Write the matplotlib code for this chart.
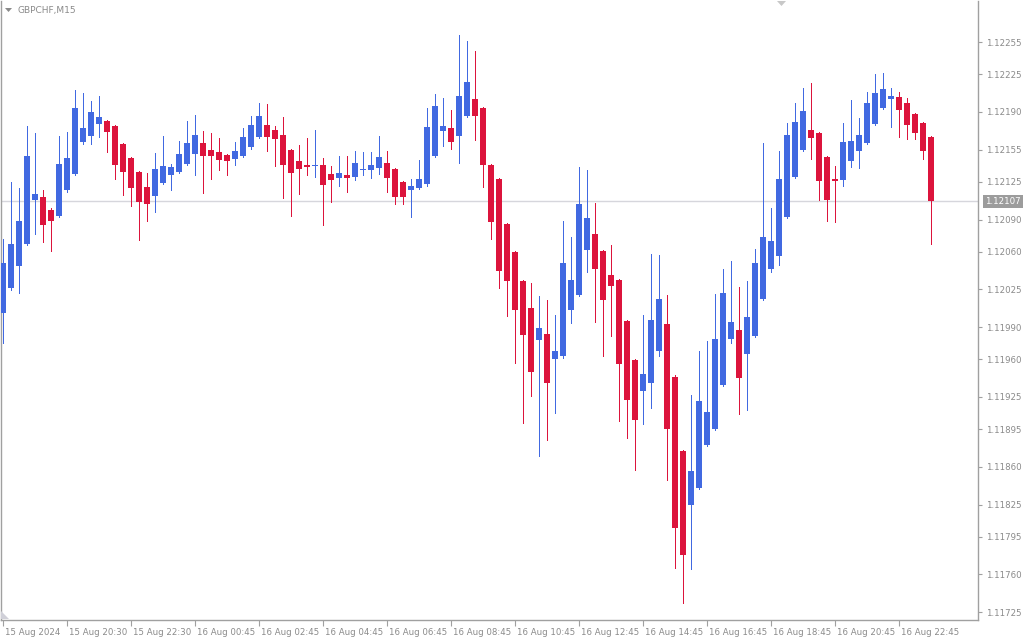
import matplotlib
matplotlib.use("Agg")
import matplotlib.pyplot as plt
from matplotlib.patches import Polygon
import matplotlib.transforms as mtransforms
import numpy as np

symbol_title = "GBPCHF,M15"

opens = [1.12003, 1.12026, 1.12047, 1.12067, 1.12108, 1.12111, 1.12099, 1.12093, 1.12117, 1.12132,
         1.12162, 1.12168, 1.12179, 1.12182, 1.12177, 1.12160, 1.12147, 1.12134, 1.12120, 1.12112,
         1.12124, 1.12131, 1.12134, 1.12142, 1.12151, 1.12161, 1.12155, 1.12153, 1.12150, 1.12146,
         1.12149, 1.12157, 1.12167, 1.12178, 1.12173, 1.12169, 1.12155, 1.12144, 1.12141, 1.12140,
         1.12141, 1.12132, 1.12129, 1.12131, 1.12130, 1.12136, 1.12136, 1.12138, 1.12143, 1.12137,
         1.12125, 1.12117, 1.12119, 1.12123, 1.12149, 1.12172, 1.12175, 1.12168, 1.12186, 1.12202,
         1.12194, 1.12141, 1.12128, 1.12086, 1.12060, 1.12033, 1.12008, 1.11978, 1.11984, 1.11960,
         1.11963, 1.12006, 1.12020, 1.12062, 1.12077, 1.12061, 1.12038, 1.12034, 1.11996, 1.11959,
         1.11931, 1.11938, 1.11968, 1.11993, 1.11944, 1.11875, 1.11825, 1.11840, 1.11880, 1.11895,
         1.11936, 1.11979, 1.11987, 1.11965, 1.11982, 1.12016, 1.12044, 1.12056, 1.12092, 1.12130,
         1.12155, 1.12173, 1.12170, 1.12148, 1.12128, 1.12127, 1.12144, 1.12154, 1.12161, 1.12179,
         1.12194, 1.12202, 1.12204, 1.12198, 1.12188, 1.12180, 1.12167]
highs = [1.12072, 1.12125, 1.12119, 1.12177, 1.12170, 1.12117, 1.12101, 1.12168, 1.12171, 1.12210,
         1.12208, 1.12200, 1.12205, 1.12183, 1.12178, 1.12161, 1.12148, 1.12135, 1.12133, 1.12152,
         1.12168, 1.12142, 1.12163, 1.12182, 1.12187, 1.12172, 1.12170, 1.12166, 1.12151, 1.12162,
         1.12175, 1.12186, 1.12198, 1.12197, 1.12177, 1.12185, 1.12156, 1.12159, 1.12166, 1.12173,
         1.12147, 1.12140, 1.12149, 1.12149, 1.12154, 1.12153, 1.12153, 1.12168, 1.12154, 1.12138,
         1.12126, 1.12128, 1.12145, 1.12194, 1.12207, 1.12203, 1.12192, 1.12262, 1.12256, 1.12247,
         1.12195, 1.12142, 1.12129, 1.12087, 1.12061, 1.12034, 1.12031, 1.12019, 1.12015, 1.12001,
         1.12089, 1.12074, 1.12139, 1.12136, 1.12105, 1.12062, 1.12066, 1.12035, 1.11997, 1.11960,
         1.12001, 1.12058, 1.12057, 1.12020, 1.11945, 1.11876, 1.11927, 1.11968, 1.11977, 1.12021,
         1.12044, 1.12051, 1.12027, 1.12033, 1.12063, 1.12161, 1.12101, 1.12154, 1.12180, 1.12198,
         1.12212, 1.12217, 1.12171, 1.12149, 1.12140, 1.12180, 1.12201, 1.12184, 1.12209, 1.12225,
         1.12226, 1.12212, 1.12209, 1.12203, 1.12189, 1.12181, 1.12168]
lows = [1.11975, 1.12024, 1.12022, 1.12066, 1.12077, 1.12069, 1.12061, 1.12092, 1.12116, 1.12131,
        1.12160, 1.12160, 1.12167, 1.12153, 1.12128, 1.12113, 1.12103, 1.12071, 1.12089, 1.12097,
        1.12123, 1.12117, 1.12133, 1.12141, 1.12131, 1.12115, 1.12128, 1.12136, 1.12131, 1.12141,
        1.12148, 1.12156, 1.12166, 1.12154, 1.12140, 1.12110, 1.12093, 1.12114, 1.12131, 1.12130,
        1.12085, 1.12106, 1.12121, 1.12116, 1.12127, 1.12131, 1.12129, 1.12132, 1.12116, 1.12104,
        1.12104, 1.12092, 1.12118, 1.12121, 1.12148, 1.12158, 1.12156, 1.12143, 1.12185, 1.12164,
        1.12120, 1.12072, 1.12026, 1.12000, 1.11957, 1.11901, 1.11926, 1.11870, 1.11885, 1.11910,
        1.11961, 1.11994, 1.12019, 1.12041, 1.11995, 1.11963, 1.11982, 1.11903, 1.11887, 1.11857,
        1.11900, 1.11915, 1.11963, 1.11848, 1.11766, 1.11733, 1.11765, 1.11839, 1.11879, 1.11894,
        1.11935, 1.11975, 1.11909, 1.11913, 1.11981, 1.12015, 1.12041, 1.12048, 1.12091, 1.12129,
        1.12154, 1.12146, 1.12108, 1.12089, 1.12088, 1.12121, 1.12139, 1.12138, 1.12160, 1.12178,
        1.12193, 1.12176, 1.12167, 1.12165, 1.12165, 1.12146, 1.12067]
closes = [1.12050, 1.12067, 1.12089, 1.12149, 1.12114, 1.12085, 1.12089, 1.12142, 1.12147, 1.12194,
          1.12175, 1.12190, 1.12185, 1.12171, 1.12141, 1.12134, 1.12119, 1.12106, 1.12104, 1.12137,
          1.12140, 1.12139, 1.12151, 1.12161, 1.12169, 1.12149, 1.12149, 1.12145, 1.12144, 1.12154,
          1.12167, 1.12178, 1.12186, 1.12167, 1.12165, 1.12141, 1.12133, 1.12137, 1.12139, 1.12141,
          1.12122, 1.12127, 1.12133, 1.12129, 1.12143, 1.12137, 1.12141, 1.12148, 1.12129, 1.12111,
          1.12111, 1.12121, 1.12128, 1.12176, 1.12196, 1.12177, 1.12162, 1.12205, 1.12218, 1.12186,
          1.12141, 1.12088, 1.12042, 1.12033, 1.12006, 1.11983, 1.11948, 1.11989, 1.11938, 1.11968,
          1.12050, 1.12034, 1.12104, 1.12091, 1.12044, 1.12015, 1.12028, 1.11956, 1.11922, 1.11904,
          1.11946, 1.11997, 1.12016, 1.11895, 1.11803, 1.11778, 1.11856, 1.11921, 1.11911, 1.11979,
          1.12022, 1.11995, 1.11943, 1.11999, 1.12050, 1.12074, 1.12070, 1.12128, 1.12169, 1.12181,
          1.12191, 1.12166, 1.12126, 1.12108, 1.12126, 1.12162, 1.12163, 1.12169, 1.12198, 1.12208,
          1.12211, 1.12205, 1.12192, 1.12178, 1.12170, 1.12154, 1.12107]

price_ticks = [1.12255, 1.12225, 1.12190, 1.12155, 1.12125, 1.12090, 1.12060, 1.12025, 1.11990,
               1.11960, 1.11925, 1.11895, 1.11860, 1.11825, 1.11795, 1.11760, 1.11725]
time_labels = ["15 Aug 2024", "15 Aug 20:30", "15 Aug 22:30", "16 Aug 00:45", "16 Aug 02:45",
               "16 Aug 04:45", "16 Aug 06:45", "16 Aug 08:45", "16 Aug 10:45", "16 Aug 12:45",
               "16 Aug 14:45", "16 Aug 16:45", "16 Aug 18:45", "16 Aug 20:45", "16 Aug 22:45"]
current_price = 1.12107

BULL = "#4169E1"
BEAR = "#DC143C"
GRID_GRAY = "#A0A0A0"
TEXT_GRAY = "#8A8A8A"

o = np.array(opens); h = np.array(highs); l = np.array(lows); c = np.array(closes)
idx = np.arange(len(o))
up = c >= o
colors = np.where(up, BULL, BEAR)

fig = plt.figure(figsize=(10.24, 6.4), dpi=100)
fig.patch.set_facecolor("white")
ax = fig.add_axes([1/1024, 20/640, 977/1024, 619/640])
ax.set_facecolor("white")

ax.set_xlim(-0.25, 121.875)
ax.set_ylim(1.117176, 1.122932)

# current price line
ax.axhline(current_price, color="#D6D6DC", lw=1.0, zorder=1)

# wicks (1 px)
ax.vlines(idx, l, h, colors=colors, lw=0.72, zorder=2, antialiased=False)
# bodies
body_bottom = np.minimum(o, c)
body_height = np.maximum(np.abs(c - o), 0.000009)
ax.bar(idx, body_height, bottom=body_bottom, width=0.66, color=colors,
       edgecolor="none", linewidth=0, zorder=3)

# axes styling
for side in ["left", "right", "bottom"]:
    ax.spines[side].set_color(GRID_GRAY)
    ax.spines[side].set_linewidth(1.0)
ax.spines["top"].set_visible(False)

ax.yaxis.tick_right()
ax.set_yticks(price_ticks)
ax.set_yticklabels([f"{p:.5f}" for p in price_ticks])
ax.tick_params(axis="y", direction="out", length=3, width=0.8, color=GRID_GRAY,
               labelsize=6.2, labelcolor=TEXT_GRAY, pad=3)

ax.set_xticks(idx[::8][:len(time_labels)])
ax.set_xticklabels(time_labels, ha="left")
ax.tick_params(axis="x", direction="out", length=4, width=0.8, color=GRID_GRAY,
               labelsize=6.2, labelcolor=TEXT_GRAY, pad=2)
offset = mtransforms.ScaledTranslation(2/100, 0, fig.dpi_scale_trans)
for lbl in ax.get_xticklabels():
    lbl.set_horizontalalignment("left")
    lbl.set_transform(lbl.get_transform() + offset)

# price tag
ax.annotate(f"{current_price:.5f}", xy=(1.0, current_price), xycoords=("axes fraction", "data"),
            xytext=(5, 0), textcoords="offset points", ha="left", va="center",
            fontsize=6.2, color="white",
            bbox=dict(boxstyle="square,pad=0.25", facecolor="#9C9C9C", edgecolor="none"))

# title
fig.text(18/1024, 1 - 10/640, symbol_title, fontsize=6.5, color=TEXT_GRAY, va="center", ha="left")
fig.patches.append(Polygon([[5/1024, 1-8/640], [12/1024, 1-8/640], [8.5/1024, 1-12/640]],
                           closed=True, transform=fig.transFigure, facecolor="#8A8A8A",
                           edgecolor="none"))
# chart shift marker
fig.patches.append(Polygon([[777/1024, 1-1/640], [786/1024, 1-1/640], [781.5/1024, 1-6/640]],
                           closed=True, transform=fig.transFigure, facecolor="#C8C8C8",
                           edgecolor="none"))
# corner marker
fig.patches.append(Polygon([[1/1024, 1-611/640], [1/1024, 1-619/640], [9/1024, 1-619/640]],
                           closed=True, transform=fig.transFigure, facecolor="#D0D0D8",
                           edgecolor="none"))

fig.savefig("out.png", dpi=100)
